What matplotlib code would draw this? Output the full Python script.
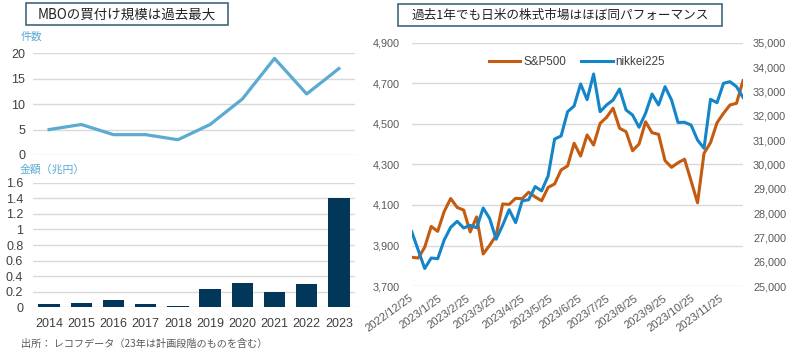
import matplotlib
matplotlib.use('Agg')
import matplotlib.pyplot as plt
from matplotlib.patches import Rectangle
from matplotlib.ticker import FuncFormatter
import pandas as pd
import numpy as np

# ---------------- data ----------------
years = ['2014', '2015', '2016', '2017', '2018', '2019', '2020', '2021', '2022', '2023']
mbo_count = [5, 6, 4, 4, 3, 6, 11, 19, 12, 17]
mbo_amount = [0.04, 0.05, 0.09, 0.04, 0.02, 0.23, 0.31, 0.20, 0.30, 1.40]

week_start = '2022-12-25'
sp500 = [3842, 3838, 3891, 3994, 3970, 4068, 4132, 4088, 4075, 3967,
         4041, 3858, 3901, 3950, 4105, 4103, 4133, 4131, 4163, 4140,
         4121, 4187, 4204, 4273, 4293, 4405, 4342, 4446, 4396, 4503,
         4533, 4578, 4479, 4462, 4368, 4401, 4511, 4457, 4449, 4319,
         4286, 4309, 4326, 4220, 4111, 4355, 4408, 4506, 4553, 4594,
         4602, 4714]
nikkei225 = [27235, 26481, 25720, 26152, 26123, 26893, 27416, 27663, 27387, 27498,
             27395, 28210, 27778, 26926, 27500, 28140, 27610, 28500, 28550, 29090,
             28915, 29530, 31049, 31173, 32173, 32407, 33313, 32670, 33724, 32173,
             32449, 32654, 33107, 32243, 32037, 31531, 32107, 32901, 32449, 33202,
             32654, 31730, 31737, 31626, 31008, 30667, 32683, 32543, 33342, 33407,
             33202, 32765]
date_tick_labels = ['2022/12/25', '2023/1/25', '2023/2/25', '2023/3/25', '2023/4/25',
                    '2023/5/25', '2023/6/25', '2023/7/25', '2023/8/25', '2023/9/25',
                    '2023/10/25', '2023/11/25']

title_left = 'MBOの買付け規模は過去最大'
title_right = '過去1年でも日米の株式市場はほぼ同パフォーマンス'
label_count = '件数'
label_amount = '金額（兆円）'
source = '出所： レコフデータ（23年は計画段階のものを含む）'

# ---------------- style ----------------
JP = ['Noto Sans CJK JP', 'DejaVu Sans']
NUM = ['Liberation Sans', 'DejaVu Sans']
LB = '#5AAAD2'
NAVY = '#03375A'
ORANGE = '#C55A11'
BLUE = '#1385C8'
GRID = '#D9D9D9'
TXT = '#404040'
GRAYTXT = '#595959'
BOXC = '#3E677D'

W, H = 800, 359
fig = plt.figure(figsize=(W / 100, H / 100), dpi=100)


def box(l, t, r, b):
    return [l / W, 1 - b / H, (r - l) / W, (b - t) / H]


def clean(ax):
    for s in ax.spines.values():
        s.set_visible(False)
    ax.tick_params(length=0)
    ax.set_axisbelow(True)


# ---------- top-left: count line ----------
x = np.arange(len(years))
ax1 = fig.add_axes(box(33, 53.3, 355, 155))
ax1.plot(x, mbo_count, color=LB, lw=2.3)
ax1.set_xlim(-0.5, len(years) - 0.5)
ax1.set_ylim(0, 20)
ax1.set_yticks([0, 5, 10, 15, 20])
ax1.set_xticks([])
ax1.grid(axis='y', color=GRID, lw=1)
clean(ax1)
ax1.tick_params(axis='y', pad=5.5, labelsize=9, labelcolor=TXT)
for t in ax1.get_yticklabels():
    t.set_family(NUM)

# ---------- bottom-left: amount bars ----------
ax3 = fig.add_axes(box(33, 182.7, 355, 307.3))
ax3.bar(x, mbo_amount, width=0.66, color=NAVY)
ax3.set_xlim(-0.5, len(years) - 0.5)
ax3.set_ylim(0, 1.6)
ax3.set_yticks(np.round(np.arange(0, 1.61, 0.2), 1))
ax3.yaxis.set_major_formatter(FuncFormatter(lambda v, p: f'{v:g}'))
ax3.set_xticks(x)
ax3.set_xticklabels(years)
ax3.grid(axis='y', color=GRID, lw=1)
clean(ax3)
ax3.tick_params(axis='y', pad=7, labelsize=9, labelcolor=TXT)
ax3.tick_params(axis='x', pad=8, labelsize=9, labelcolor=TXT)
for t in ax3.get_yticklabels() + ax3.get_xticklabels():
    t.set_family(NUM)

# ---------- right: S&P500 vs nikkei ----------
dates = pd.date_range(week_start, periods=len(sp500), freq='7D')
tick_dates = pd.to_datetime(date_tick_labels, format='%Y/%m/%d')

axR = fig.add_axes(box(411.7, 43, 743, 286))
l1, = axR.plot(dates, sp500, color=ORANGE, lw=2.2, label='S&P500')
axR.set_ylim(3700, 4900)
axR.set_yticks(np.arange(3700, 4901, 200))
axR.yaxis.set_major_formatter(FuncFormatter(lambda v, p: f'{v:,.0f}'))
axR.set_xlim(dates[0], dates[-1])
axR.set_xticks(tick_dates)
axR.set_xticklabels(date_tick_labels, rotation=36, ha='right', va='center',
                    rotation_mode='anchor')
axR.grid(axis='y', color=GRID, lw=1)
clean(axR)
axR.tick_params(axis='y', pad=8.4, labelsize=7.8, labelcolor=GRAYTXT)
axR.tick_params(axis='x', pad=8, labelsize=8, labelcolor=GRAYTXT)

axR2 = axR.twinx()
l2, = axR2.plot(dates, nikkei225, color=BLUE, lw=2.2, label='nikkei225')
axR2.set_ylim(25000, 35000)
axR2.set_yticks(np.arange(25000, 35001, 1000))
axR2.yaxis.set_major_formatter(FuncFormatter(lambda v, p: f'{v:,.0f}'))
clean(axR2)
axR2.tick_params(axis='y', pad=7.2, labelsize=7.8, labelcolor=GRAYTXT)
axR2.set_xlim(dates[0], dates[-1])

for a in (axR, axR2):
    for t in a.get_yticklabels() + a.get_xticklabels():
        t.set_family(NUM)

leg = axR2.legend(handles=[l1, l2], loc='center', bbox_to_anchor=(0.499, 0.923),
                  ncol=2, frameon=False, handlelength=2.7, handletextpad=0.25,
                  columnspacing=1.3, prop={'family': NUM, 'size': 8.4})
for t in leg.get_texts():
    t.set_color(TXT)

# ---------- titles & labels ----------
fig.add_artist(Rectangle((26 / W, 1 - 25 / H), 202 / W, 22 / H, transform=fig.transFigure,
                         fill=False, edgecolor=BOXC, lw=1.2))
fig.text(127 / W, 1 - 14.5 / H, title_left, ha='center', va='center',
         fontsize=9.7, family=JP, color='#222222')
fig.add_artist(Rectangle((398 / W, 1 - 26 / H), 324 / W, 22 / H, transform=fig.transFigure,
                         fill=False, edgecolor=BOXC, lw=1.2))
fig.text(560 / W, 1 - 15.5 / H, title_right, ha='center', va='center',
         fontsize=9.1, family=JP, color='#222222')

fig.text(20.5 / W, 1 - 37 / H, label_count, ha='left', va='center',
         fontsize=7.8, family=JP, color=LB)
fig.text(20 / W, 1 - 170 / H, label_amount, ha='left', va='center',
         fontsize=7.8, family=JP, color=LB)
fig.text(21 / W, 1 - 343.5 / H, source, ha='left', va='center',
         fontsize=7.3, family=JP, color=GRAYTXT)

fig.savefig('out.png', dpi=100)
